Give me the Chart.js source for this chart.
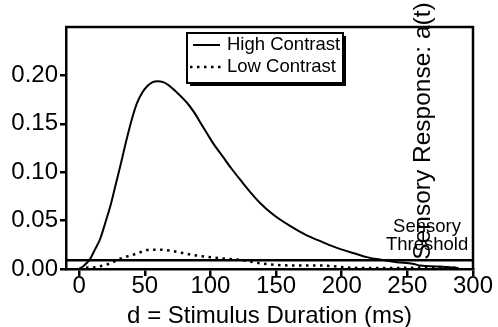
<!DOCTYPE html>
<html>
<head>
<meta charset="utf-8">
<script src="https://cdn.jsdelivr.net/npm/chart.js@4.4.1/dist/chart.umd.min.js"></script>
<style>
    body { margin: 0; background: #fff; }
    #wrap { width: 498px; height: 327px; }
</style>
</head>
<body>
<div id="wrap"><canvas id="response-chart" width="498" height="327"></canvas></div>
<script>
// Response curves for the two contrast conditions
const highTimes  = [0, 4, 8, 12, 16, 20, 24, 28, 32, 36, 40, 44, 48, 52, 56, 60, 64, 68, 74, 82, 88, 92, 97, 102, 110, 117, 124, 130, 138, 148, 160, 173, 185, 198, 210, 220, 230, 242, 254, 260, 272, 282, 289];
const highValues = [0, 0.004, 0.0096, 0.02, 0.031, 0.048, 0.066, 0.088, 0.11, 0.133, 0.154, 0.171, 0.182, 0.189, 0.193, 0.194, 0.193, 0.19, 0.183, 0.172, 0.161, 0.152, 0.141, 0.13, 0.115, 0.102, 0.09, 0.08, 0.068, 0.056, 0.045, 0.035, 0.028, 0.021, 0.016, 0.012, 0.0095, 0.007, 0.0055, 0.0035, 0.0027, 0.0018, 0.001];

const lowTimes  = [0, 3, 13, 23, 32, 41, 47, 54, 61, 69, 79, 89, 102, 112, 125, 140, 160, 186, 209, 235, 260, 275, 289];
const lowValues = [0, 0.001, 0.002, 0.0055, 0.011, 0.0147, 0.0175, 0.02, 0.02, 0.019, 0.0165, 0.014, 0.012, 0.0106, 0.009, 0.0055, 0.0037, 0.0035, 0.0012, 0.001, 0.0015, 0.002, 0.001];

const THRESHOLD = 0.009;

// Axis ranges and ticks
const X_MIN = -10, X_MAX = 300;
const Y_MIN = 0, Y_MAX = 0.25;
const xTicks = [0, 50, 100, 150, 200, 250, 300];
const yTicks = [0, 0.05, 0.10, 0.15, 0.20];

const FONT = "'Liberation Sans', Arial, sans-serif";
const LOW_DASH = [2.5, 4.5];

function toPoints(times, values) {
    return times.map(function(t, i) { return { x: t, y: values[i] }; });
}

// Top/right frame, legend box, threshold label and the response axis title
const decorations = {
    id: 'decorations',
    afterDraw(chart) {
        const c = chart.ctx;
        const area = chart.chartArea;
        const xs = chart.scales.x;
        const ys = chart.scales.y;

        c.save();
        c.strokeStyle = '#000';
        c.lineWidth = 2.5;
        c.beginPath();
        c.moveTo(area.left - 1, area.top);
        c.lineTo(area.right, area.top);
        c.lineTo(area.right, area.bottom);
        c.stroke();

        // legend with drop shadow
        const bx = 187, by = 33, bw = 156, bh = 50;
        c.fillStyle = '#000';
        c.fillRect(bx + 3, by + 3, bw, bh);
        c.fillStyle = '#fff';
        c.fillRect(bx, by, bw, bh);
        c.lineWidth = 2;
        c.strokeRect(bx, by, bw, bh);

        c.beginPath();
        c.moveTo(bx + 6, by + 12);
        c.lineTo(bx + 33, by + 12);
        c.stroke();
        c.setLineDash(LOW_DASH);
        c.lineWidth = 2.5;
        c.beginPath();
        c.moveTo(bx + 3, by + 34);
        c.lineTo(bx + 38, by + 34);
        c.stroke();
        c.setLineDash([]);

        c.fillStyle = '#000';
        c.font = '18.5px ' + FONT;
        c.textAlign = 'left';
        c.textBaseline = 'middle';
        c.fillText(chart.data.datasets[0].label, bx + 40, by + 12);
        c.fillText(chart.data.datasets[1].label, bx + 40, by + 34);

        // threshold label
        const ty = ys.getPixelForValue(THRESHOLD);
        const tx = xs.getPixelForValue(265);
        c.textAlign = 'center';
        c.fillText('Sensory', tx, ty - 33);
        c.fillText('Threshold', tx, ty - 15);

        // response axis title, reading bottom to top
        c.translate(xs.getPixelForValue(262), 131);
        c.rotate(-Math.PI / 2);
        c.font = '24.5px ' + FONT;
        c.textBaseline = 'middle';
        c.fillText('Sensory Response: a(t)', 0, 0);
        c.restore();
    }
};

window.addEventListener('DOMContentLoaded', function() {
    const ctx = document.getElementById('response-chart').getContext('2d');
    new Chart(ctx, {
        type: 'line',
        data: {
            datasets: [{
                label: 'High Contrast',
                data: toPoints(highTimes, highValues),
                borderColor: '#000',
                borderWidth: 2,
                pointRadius: 0,
                cubicInterpolationMode: 'monotone',
                fill: false
            }, {
                label: 'Low Contrast',
                data: toPoints(lowTimes, lowValues),
                borderColor: '#000',
                borderWidth: 2.5,
                borderDash: LOW_DASH,
                pointRadius: 0,
                cubicInterpolationMode: 'monotone',
                fill: false
            }, {
                label: 'Sensory Threshold',
                data: [{ x: X_MIN, y: THRESHOLD }, { x: X_MAX, y: THRESHOLD }],
                borderColor: '#000',
                borderWidth: 2.5,
                pointRadius: 0,
                fill: false
            }]
        },
        options: {
            responsive: false,
            animation: false,
            devicePixelRatio: 1,
            layout: { padding: { top: 27, right: 25, left: 0, bottom: 0 } },
            plugins: {
                legend: { display: false },
                tooltip: { enabled: false }
            },
            scales: {
                x: {
                    type: 'linear',
                    min: X_MIN,
                    max: X_MAX,
                    afterBuildTicks: function(s) { s.ticks = xTicks.map(function(v) { return { value: v }; }); },
                    afterFit: function(s) { s.height = 58; },
                    grid: { drawOnChartArea: false, color: '#000', lineWidth: 2.5, tickLength: 7 },
                    border: { color: '#000', width: 2.5 },
                    ticks: {
                        color: '#000',
                        font: { family: FONT, size: 24 },
                        padding: -4,
                        maxRotation: 0
                    },
                    title: {
                        display: true,
                        text: 'd = Stimulus Duration (ms)',
                        color: '#000',
                        font: { family: FONT, size: 24 },
                        padding: { top: 0, bottom: -4 }
                    }
                },
                y: {
                    min: Y_MIN,
                    max: Y_MAX,
                    afterBuildTicks: function(s) { s.ticks = yTicks.map(function(v) { return { value: v }; }); },
                    afterFit: function(s) { s.width = 66; },
                    grid: { drawOnChartArea: false, color: '#000', lineWidth: 2.5, tickLength: 6 },
                    border: { color: '#000', width: 2.5 },
                    ticks: {
                        color: '#000',
                        font: { family: FONT, size: 24 },
                        padding: 2,
                        callback: function(v) { return v.toFixed(2); }
                    }
                }
            }
        },
        plugins: [decorations]
    });
});
</script>
</body>
</html>
